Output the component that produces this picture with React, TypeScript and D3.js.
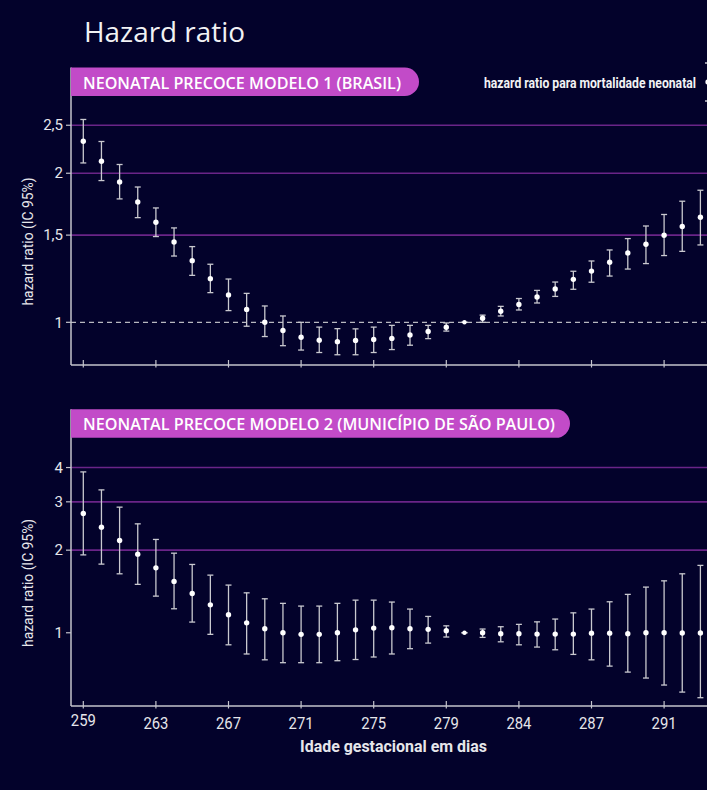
import React from "react";
import * as d3 from "d3";

// ---- data ----
const tickLabels = ["259", "263", "267", "271", "275", "279", "284", "287", "291"];
const tickEvery = 4;
const refIndex = 21;

const m1Hr = [2.32, 2.115, 1.92, 1.75, 1.592, 1.453, 1.332, 1.225, 1.136, 1.062, 1.0, 0.963, 0.933, 0.92, 0.914, 0.919, 0.923, 0.928, 0.943, 0.958, 0.977, 1.0, 1.019, 1.053, 1.087, 1.125, 1.168, 1.221, 1.269, 1.322, 1.38, 1.438, 1.499, 1.561, 1.63];
const m1Lo = [2.098, 1.933, 1.775, 1.627, 1.49, 1.361, 1.244, 1.148, 1.056, 0.982, 0.936, 0.897, 0.879, 0.869, 0.86, 0.86, 0.869, 0.881, 0.899, 0.927, 0.96, 1.0, 1.0, 1.03, 1.059, 1.094, 1.128, 1.166, 1.205, 1.24, 1.281, 1.314, 1.364, 1.391, 1.433];
const m1Hi = [2.568, 2.318, 2.083, 1.876, 1.702, 1.551, 1.422, 1.31, 1.223, 1.144, 1.079, 1.03, 1.0, 0.978, 0.971, 0.97, 0.978, 0.986, 0.986, 0.986, 0.997, 1.0, 1.034, 1.077, 1.117, 1.16, 1.206, 1.268, 1.33, 1.4, 1.476, 1.565, 1.651, 1.756, 1.848];

const m2Hr = [2.72, 2.426, 2.17, 1.934, 1.724, 1.539, 1.391, 1.264, 1.163, 1.087, 1.034, 1.0, 0.987, 0.987, 1.0, 1.025, 1.04, 1.043, 1.034, 1.029, 1.017, 1.0, 1.0, 0.992, 0.992, 0.989, 0.989, 0.989, 0.997, 0.997, 0.992, 1.0, 1.0, 0.998, 0.998];
const m2Lo = [1.922, 1.779, 1.64, 1.501, 1.36, 1.223, 1.094, 0.987, 0.904, 0.837, 0.797, 0.778, 0.778, 0.778, 0.791, 0.799, 0.816, 0.837, 0.875, 0.917, 0.965, 1.0, 0.962, 0.927, 0.904, 0.887, 0.867, 0.834, 0.797, 0.756, 0.719, 0.684, 0.645, 0.608, 0.58];
const m2Hi = [3.856, 3.316, 2.869, 2.494, 2.188, 1.95, 1.774, 1.622, 1.492, 1.398, 1.33, 1.28, 1.251, 1.251, 1.28, 1.315, 1.315, 1.294, 1.22, 1.147, 1.06, 1.0, 1.032, 1.052, 1.073, 1.096, 1.122, 1.182, 1.22, 1.297, 1.38, 1.467, 1.546, 1.64, 1.76];

const m1Ticks = [1, 1.5, 2, 2.5];
const m1Grid = [1.5, 2, 2.5];
const m2Ticks = [1, 2, 3, 4];
const m2Grid = [2, 3, 4];

const titleText = "Hazard ratio";
const panel1Title = "NEONATAL PRECOCE MODELO 1 (BRASIL)";
const panel2Title = "NEONATAL PRECOCE MODELO 2 (MUNICÍPIO DE SÃO PAULO)";
const yTitle = "hazard ratio (IC 95%)";
const xTitle = "Idade gestacional em dias";
const legendText = "hazard ratio para mortalidade neonatal";

// ---- style ----
const W = 707;
const H = 790;
const BG = "#03022b";
const MAGENTA = "#c24bc8";
const GRID = "#6a2488";
const AXIS = "#c4c4cc";
const ERR = "#c9c9cf";
const TXT = "#e6e6ea";
const COND = "'Roboto','Noto Sans',sans-serif";
const SANS = "'Open Sans','Noto Sans',sans-serif";

const LEFT = 71;

const fmt = (v: number) => String(v).replace(".", ",");

type PanelProps = {
  hr: number[];
  lo: number[];
  hi: number[];
  ticks: number[];
  grid: number[];
  domain: [number, number];
  yRange: [number, number];
  bannerTop: number;
  bannerRight: number;
  title: string;
  titleLen: number;
  dashedOne: boolean;
  showXLabels: boolean;
};

const x = d3.scaleLinear().domain([0, 34]).range([83.3, 700.4]);
const idx = d3.range(m1Hr.length);
const tickIdx = tickLabels.map((_, i) => i * tickEvery);

function Panel(p: PanelProps) {
  const y = d3.scaleLog().domain(p.domain).range(p.yRange);
  const [yBottom, yTop] = p.yRange;
  const bh = 28.5;
  const r = bh / 2;
  const bx = LEFT;
  const bannerPath = `M${bx},${p.bannerTop} H${p.bannerRight - r} A${r},${r} 0 0 1 ${p.bannerRight - r},${p.bannerTop + bh} H${bx} Z`;
  const yMid = (yBottom + (p.bannerTop + bh)) / 2 + 11;
  return (
    <g>
      {p.grid.map((t) => (
        <line key={"g" + t} x1={LEFT} x2={W} y1={y(t)} y2={y(t)} stroke={GRID} strokeWidth={1.6} />
      ))}
      {p.dashedOne && (
        <line x1={LEFT} x2={W} y1={y(1)} y2={y(1)} stroke="#b8b8c0" strokeWidth={1.3} strokeDasharray="5,4" />
      )}
      {/* axes */}
      <line x1={LEFT} x2={LEFT} y1={yTop} y2={yBottom} stroke={AXIS} strokeWidth={1.5} />
      <line x1={LEFT} x2={W} y1={yBottom} y2={yBottom} stroke={AXIS} strokeWidth={1.5} />
      {p.ticks.map((t) => (
        <g key={"t" + t}>
          <line x1={LEFT - 5} x2={LEFT} y1={y(t)} y2={y(t)} stroke={AXIS} strokeWidth={1.2} />
          <text x={LEFT - 8} y={y(t)} dy="0.35em" textAnchor="end" fill={TXT} fontSize={15} fontFamily={COND}>
            {fmt(t)}
          </text>
        </g>
      ))}
      {tickIdx.map((k, i) => (
        <g key={"x" + k}>
          <line x1={x(k)} x2={x(k)} y1={yBottom - 5} y2={yBottom + 2.5} stroke={AXIS} strokeWidth={1.2} />
          {p.showXLabels && (
            <text x={x(k)} y={yBottom + (i === 0 ? 20 : 22.5)} textAnchor="middle" fill={TXT} fontSize={17} fontFamily={COND}
              textLength={25} lengthAdjust="spacingAndGlyphs">
              {tickLabels[i]}
            </text>
          )}
        </g>
      ))}
      <text
        transform={`translate(33,${yMid}) rotate(-90)`}
        textAnchor="middle"
        fill={TXT}
        fontSize={14}
        fontFamily={COND}
        textLength={128}
        lengthAdjust="spacingAndGlyphs"
      >
        {yTitle}
      </text>
      {/* banner */}
      <path d={bannerPath} fill={MAGENTA} />
      <text
        x={83}
        y={p.bannerTop + 21}
        fill="#ffffff"
        fontSize={16}
        fontWeight={600}
        fontFamily={SANS}
        textLength={p.titleLen}
        lengthAdjust="spacingAndGlyphs"
      >
        {p.title}
      </text>
      {/* error bars */}
      {idx.map((k) => {
        const cx = x(k);
        const y0 = y(p.lo[k]);
        const y1 = y(p.hi[k]);
        return (
          <g key={"e" + k}>
            <line x1={cx} x2={cx} y1={y0} y2={y1} stroke={ERR} strokeWidth={1.3} />
            <line x1={cx - 3} x2={cx + 3} y1={y0} y2={y0} stroke={ERR} strokeWidth={1.3} />
            <line x1={cx - 3} x2={cx + 3} y1={y1} y2={y1} stroke={ERR} strokeWidth={1.3} />
            <circle cx={cx} cy={y(p.hr[k])} r={k === refIndex ? 2.2 : 2.7} fill="#ffffff" />
          </g>
        );
      })}
    </g>
  );
}

export default function App() {
  return (
    <svg
      width={W}
      height={H}
      style={{ position: "absolute", left: 0, top: 0, display: "block" }}
    >
      <rect x={0} y={0} width={W} height={H} fill={BG} />
      <text x={84} y={42} fill="#f2f2f4" fontSize={28} fontWeight={400} fontFamily={SANS}
        textLength={161} lengthAdjust="spacingAndGlyphs">
        {titleText}
      </text>
      <Panel
        hr={m1Hr}
        lo={m1Lo}
        hi={m1Hi}
        ticks={m1Ticks}
        grid={m1Grid}
        domain={[0.82, 3.27]}
        yRange={[365, 67.5]}
        bannerTop={67.5}
        bannerRight={419}
        title={panel1Title}
        titleLen={318}
        dashedOne={true}
        showXLabels={false}
      />
      <Panel
        hr={m2Hr}
        lo={m2Lo}
        hi={m2Hi}
        ticks={m2Ticks}
        grid={m2Grid}
        domain={[0.541, 6.52]}
        yRange={[706, 409.3]}
        bannerTop={409.3}
        bannerRight={570}
        title={panel2Title}
        titleLen={472}
        dashedOne={false}
        showXLabels={true}
      />
      <text x={300} y={752} fill={TXT} fontSize={16} fontWeight={700} fontFamily={COND}
        textLength={187} lengthAdjust="spacingAndGlyphs">
        {xTitle}
      </text>
      {/* legend */}
      <text transform="translate(484,88) scale(1,1.15)" x={0} y={0} fill="#f2f2f4" fontSize={12} fontWeight={700} fontFamily={COND}
        textLength={212} lengthAdjust="spacingAndGlyphs">
        {legendText}
      </text>
      <g>
        <line x1={708} x2={708} y1={63} y2={101} stroke={ERR} strokeWidth={1.3} />
        <line x1={705} x2={711} y1={63} y2={63} stroke={ERR} strokeWidth={1.3} />
        <line x1={705} x2={711} y1={101} y2={101} stroke={ERR} strokeWidth={1.3} />
        <circle cx={708} cy={82} r={2.7} fill="#ffffff" />
      </g>
    </svg>
  );
}
